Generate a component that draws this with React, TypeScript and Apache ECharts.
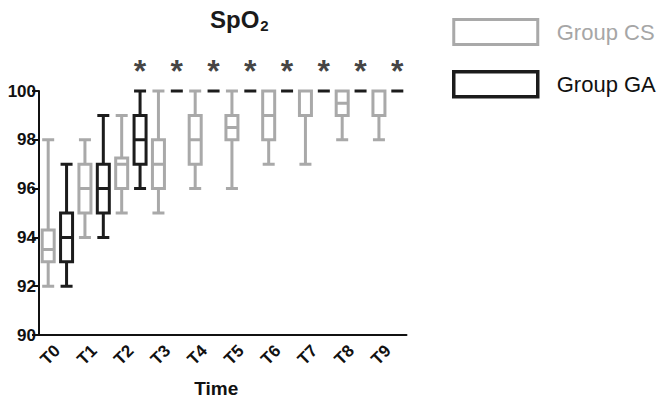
import React, { useEffect, useRef } from "react";
import * as echarts from "echarts";

// Time points
const categories = ["T0", "T1", "T2", "T3", "T4", "T5", "T6", "T7", "T8", "T9"];
const groupNames = ["Group CS", "Group GA"];

// Box values per time point: [min, Q1, median, Q3, max]
const csBoxes = [
  [92, 93, 93.5, 94.3, 98],
  [94, 95, 96, 97, 98],
  [95, 96, 97, 97.25, 99],
  [95, 96, 97, 98, 100],
  [96, 97, 98, 99, 100],
  [96, 98, 98.5, 99, 100],
  [97, 98, 99, 100, 100],
  [97, 99, 100, 100, 100],
  [98, 99, 99.5, 100, 100],
  [98, 99, 100, 100, 100],
];
const gaBoxes = [
  [92, 93, 94, 95, 97],
  [94, 95, 96, 97, 99],
  [96, 97, 98, 99, 100],
  [100, 100, 100, 100, 100],
  [100, 100, 100, 100, 100],
  [100, 100, 100, 100, 100],
  [100, 100, 100, 100, 100],
  [100, 100, 100, 100, 100],
  [100, 100, 100, 100, 100],
  [100, 100, 100, 100, 100],
];
// Time points marked with an asterisk (significant difference)
const significant = ["T2", "T3", "T4", "T5", "T6", "T7", "T8", "T9"];
const starLevel = 100;

// Y axis
const yMin = 90;
const yMax = 100;
const yInterval = 2;

const CS_COLOR = "#a9a9a9";
const GA_COLOR = "#1c1c1c";
const FONT = "Liberation Sans, Arial, sans-serif";

const EMPTY = ["-", "-", "-", "-", "-"];

export default function App() {
  const ref = useRef<HTMLDivElement>(null);

  useEffect(() => {
    if (!ref.current) return;
    const chart = echarts.init(ref.current, undefined, { renderer: "svg" });

    const slots = categories.flatMap((c) => [c + " CS", c + " GA"]);
    const csData = slots.map((_, i) => (i % 2 === 0 ? csBoxes[i / 2] : EMPTY));
    const gaData = slots.map((_, i) => (i % 2 === 1 ? gaBoxes[(i - 1) / 2] : EMPTY));
    const starData = significant.map((c) => [c + " GA", starLevel]);

    const gridRect = { left: 39, top: 91, width: 367.5, height: 244, outerBoundsMode: "none" };

    chart.setOption({
      animation: false,
      textStyle: { fontFamily: FONT },
      title: {
        text: "{a|SpO}{b|2}",
        left: 205,
        top: 0,
        textStyle: {
          rich: {
            a: { fontSize: 24, fontWeight: "bold", color: "#1a1a1a", fontFamily: FONT },
            b: { fontSize: 15, fontWeight: "bold", color: "#1a1a1a", fontFamily: FONT, padding: [13, 0, 0, 1] },
          },
        },
      },
      legend: {
        orient: "vertical",
        left: 447,
        top: 13,
        icon: "rect",
        itemWidth: 84,
        itemHeight: 25,
        itemGap: 24,
        selectedMode: false,
        textStyle: { fontSize: 22, fontFamily: FONT, padding: [0, 0, 0, 14] },
        data: [
          {
            name: groupNames[0],
            itemStyle: { color: "#fff", borderColor: CS_COLOR, borderWidth: 3 },
            textStyle: { color: "#a6a6a6" },
          },
          {
            name: groupNames[1],
            itemStyle: { color: "#fff", borderColor: GA_COLOR, borderWidth: 3.5 },
            textStyle: { color: "#111" },
          },
        ],
      },
      grid: [gridRect, gridRect],
      xAxis: [
        {
          type: "category",
          gridIndex: 0,
          data: slots,
          boundaryGap: true,
          axisLine: { lineStyle: { color: "#111", width: 2 } },
          axisTick: { alignWithLabel: true, interval: 0, length: 7, lineStyle: { color: "#111", width: 2 } },
          axisLabel: { show: false, interval: 0 },
          splitLine: { show: false },
        },
        {
          type: "category",
          gridIndex: 1,
          data: categories,
          position: "bottom",
          axisLine: { show: false },
          axisTick: { show: false },
          axisLabel: {
            interval: 0,
            rotate: 45,
            margin: 13,
            color: "#111",
            fontSize: 17,
            fontWeight: "bold",
            fontFamily: FONT,
          },
          name: "Time",
          nameLocation: "middle",
          nameGap: 44,
          nameTextStyle: { fontSize: 19, fontWeight: "bold", color: "#111", fontFamily: FONT, padding: [0, 13, 0, 0] },
          splitLine: { show: false },
        },
        {
          type: "category",
          gridIndex: 1,
          data: slots,
          show: false,
        },
      ],
      yAxis: [
        {
          type: "value",
          gridIndex: 0,
          min: yMin,
          max: yMax,
          interval: yInterval,
          axisLine: { show: true, lineStyle: { color: "#111", width: 2 } },
          axisTick: { show: true, length: 7, lineStyle: { color: "#111", width: 2 } },
          axisLabel: { color: "#111", fontSize: 17, fontWeight: "bold", margin: 3, fontFamily: FONT },
          splitLine: { show: false },
        },
        {
          type: "value",
          gridIndex: 1,
          min: yMin,
          max: yMax,
          interval: yInterval,
          show: false,
          splitLine: { show: false },
        },
      ],
      series: [
        {
          name: groupNames[0],
          type: "boxplot",
          xAxisIndex: 0,
          yAxisIndex: 0,
          boxWidth: [12, 12],
          itemStyle: { color: "#fff", borderColor: CS_COLOR, borderWidth: 3 },
          data: csData,
        },
        {
          name: groupNames[1],
          type: "boxplot",
          xAxisIndex: 2,
          yAxisIndex: 1,
          boxWidth: [12, 12],
          itemStyle: { color: "#fff", borderColor: GA_COLOR, borderWidth: 3 },
          data: gaData,
        },
        {
          type: "scatter",
          xAxisIndex: 0,
          yAxisIndex: 0,
          symbolSize: 0,
          silent: true,
          clip: false,
          data: starData,
          label: {
            show: true,
            position: "top",
            distance: 4,
            formatter: "*",
            fontSize: 32,
            fontWeight: "bold",
            color: "#111",
            fontFamily: FONT,
          },
        },
      ],
    });

    return () => chart.dispose();
  }, []);

  return <div ref={ref} style={{ width: 661, height: 400, position: "absolute", left: 0, top: 0 }} />;
}
